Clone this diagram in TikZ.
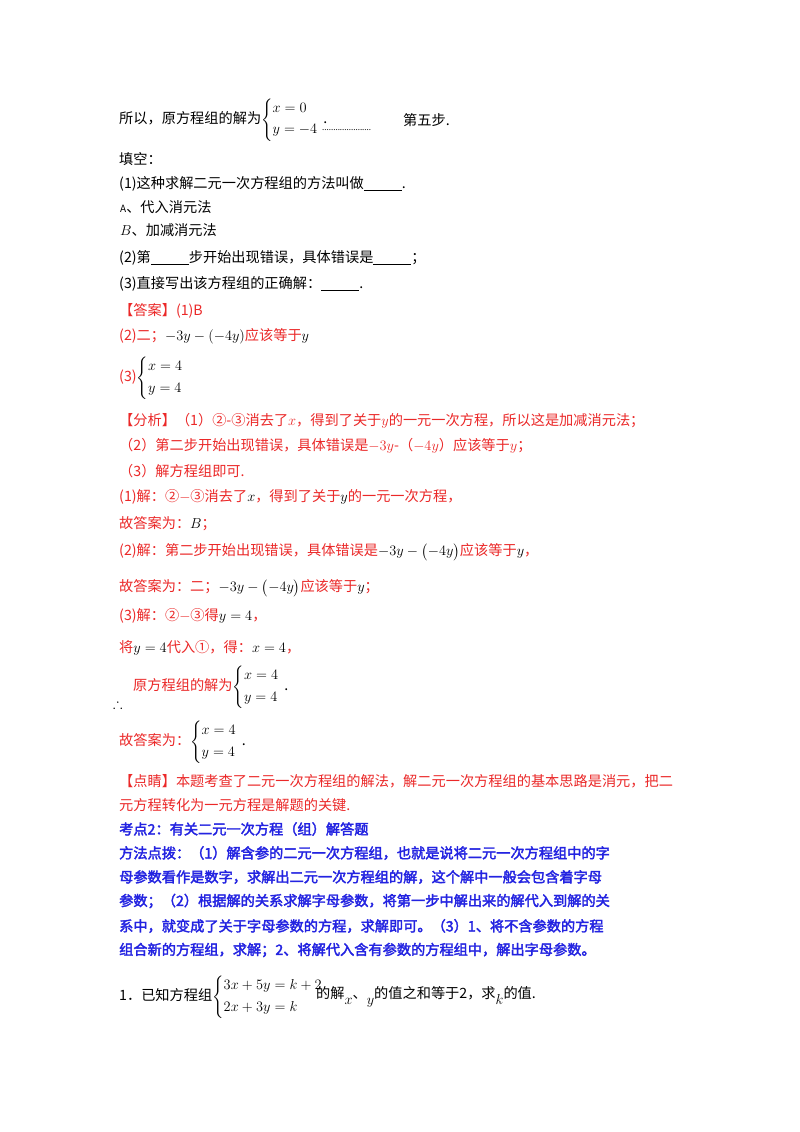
\documentclass[tikz,border=0pt]{standalone}
\usepackage{amsmath,amssymb}
\usepackage{fontspec}
\setmainfont{Noto Sans CJK SC}
\newfontfamily\cjkb{Noto Sans CJK SC}[FakeBold=2.5]
\definecolor{ared}{RGB}{235,40,40}
\definecolor{ablue}{RGB}{35,35,225}
\newcommand{\blk}{\rule[-2pt]{38pt}{0.6pt}}
\begin{document}
\begin{tikzpicture}[x=1pt,y=1pt,
  T/.style={anchor=west,inner sep=0pt,font=\fontsize{14.2}{17}\selectfont},
  R/.style={T,text=ared},
  B/.style={T,text=ablue,font=\fontsize{14.2}{17}\selectfont\cjkb}]
\fill[white] (0,0) rectangle (800,-1132);
\node[T] (l1) at (119,-120) {所以，原方程组的解为$\left\{\begin{array}{@{}l}x=0\\[4pt] y=-4\end{array}\right.$.};
\node[T] (dots) at (322,-130) {\fontsize{8}{8}\selectfont ......................};
\node[T] (l1b) at (403,-120) {第五步.};
\node[T] (l2) at (119,-159) {填空：};
\node[T] (l3) at (119,-184) {(1)这种求解二元一次方程组的方法叫做\blk.};
\node[T] (l4) at (120,-207) {\fontsize{10}{10}\selectfont A\fontsize{14.2}{17}\selectfont 、代入消元法};
\node[T] (l5) at (120,-230) {$B$、加减消元法};
\node[T] (l6) at (119,-258) {(2)第\blk 步开始出现错误，具体错误是\blk；};
\node[T] (l7) at (119,-284) {(3)直接写出该方程组的正确解：\blk.};
\node[R] (a1) at (119,-311) {【答案】(1)B};
\node[R] (a2) at (119,-336) {(2)二；\textcolor{black}{$-3y-(-4y)$}应该等于\textcolor{black}{$y$}};
\node[R] (a3) at (119,-378) {(3)\textcolor{black}{$\left\{\begin{array}{@{}l}x=4\\[5pt] y=4\end{array}\right.$}};
\node[R] (f1) at (119,-421) {【分析】（1）②-③消去了$x$，得到了关于$y$的一元一次方程，所以这是加减消元法；};
\node[R] (f2) at (119,-446) {（2）第二步开始出现错误，具体错误是$-3y$-（$-4y$）应该等于$y$；};
\node[R] (f3) at (119,-471) {（3）解方程组即可.};
\node[R] (s1) at (119,-497) {(1)解：②$-$③消去了\textcolor{black}{$x$}，得到了关于\textcolor{black}{$y$}的一元一次方程，};
\node[R] (s2) at (119,-524) {故答案为：\textcolor{black}{$B$}；};
\node[R] (s3) at (119,-552) {(2)解：第二步开始出现错误，具体错误是\textcolor{black}{$-3y-\bigl(-4y\bigr)$}应该等于\textcolor{black}{$y$}，};
\node[R] (s4) at (119,-588) {故答案为：二；\textcolor{black}{$-3y-\bigl(-4y\bigr)$}应该等于\textcolor{black}{$y$}；};
\node[R] (s5) at (119,-616) {(3)解：②$-$③得\textcolor{black}{$y=4$}，};
\node[R] (s6) at (119,-648) {将\textcolor{black}{$y=4$}代入①，得：\textcolor{black}{$x=4$}，};
\node[T] (th) at (113,-704) {$\therefore$};
\node[R] (s7) at (133,-687) {原方程组的解为\textcolor{black}{$\left\{\begin{array}{@{}l}x=4\\[5pt] y=4\end{array}\right.$.}};
\node[R] (s8) at (119,-742) {故答案为：\textcolor{black}{$\left\{\begin{array}{@{}l}x=4\\[5pt] y=4\end{array}\right.$.}};
\node[R] (d1) at (119,-781) {【点睛】本题考查了二元一次方程组的解法，解二元一次方程组的基本思路是消元，把二};
\node[R] (d2) at (119,-805) {元方程转化为一元方程是解题的关键.};
\node[B] (k0) at (119,-829) {考点2：有关二元一次方程（组）解答题};
\node[B] (k1) at (119,-853) {方法点拨：（1）解含参的二元一次方程组，也就是说将二元一次方程组中的字};
\node[B] (k2) at (119,-877) {母参数看作是数字，求解出二元一次方程组的解，这个解中一般会包含着字母};
\node[B] (k3) at (119,-901) {参数；（2）根据解的关系求解字母参数，将第一步中解出来的解代入到解的关};
\node[B] (k4) at (119,-926) {系中，就变成了关于字母参数的方程，求解即可。（3）1、将不含参数的方程};
\node[B] (k5) at (119,-950) {组合新的方程组，求解；2、将解代入含有参数的方程组中，解出字母参数。};
\node[T] (q1) at (119,-997) {1．已知方程组$\left\{\begin{array}{@{}l}3x+5y=k+2\\[5pt] 2x+3y=k\end{array}\right.$};
\node[T] (q2) at (316,-997) {的解\raisebox{-6pt}{$x$}、\raisebox{-6pt}{$y$}的值之和等于2，求\raisebox{-6pt}{$k$}的值.};
\end{tikzpicture}
\end{document}
